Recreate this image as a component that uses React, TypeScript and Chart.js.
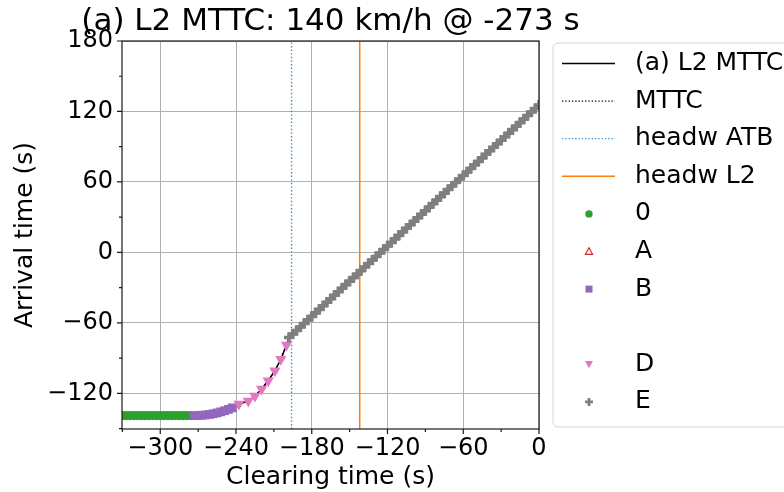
import React, { useEffect, useRef } from 'react';
import { Chart, registerables } from 'chart.js';

Chart.register(...registerables);

const FONT = "'DejaVu Sans', 'Noto Sans', sans-serif";

const TITLE = '(a) L2 MTTC: 140 km/h @ -273 s';
const X_LABEL = 'Clearing time (s)';
const Y_LABEL = 'Arrival time (s)';

const X_MIN = -330.3;
const X_MAX = 0;
const Y_MIN = -150.4;
const Y_MAX = 180;
const X_TICKS = [-300, -240, -180, -120, -60, 0];
const Y_TICKS = [-120, -60, 0, 60, 120, 180];
const X_MINOR = [-330, -270, -210, -150, -90, -30];
const Y_MINOR = [-150, -90, -30, 30, 90, 150];

// MTTC curve
const LINE_X = [-330, -273, -267, -261, -255, -249, -243, -237.7, -230.3, -225.0, -219.7, -214.5, -209.2, -204.5, -200.0, -198, 0];
const LINE_Y = [-139.0, -139.0, -138.7, -138.0, -136.7, -134.8, -132.4, -129.1, -126.6, -122.3, -116.4, -109.3, -100.8, -91.1, -78.9, -72.5, 125.5];

// headway lines
const HEADW_ATB = -196;
const HEADW_L2 = -142;

// state "0"
const S0_X = [-330, -327, -324, -321, -318, -315, -312, -309, -306, -303, -300, -297, -294, -291, -288, -285, -282, -279, -276];
const S0_Y = [-139, -139, -139, -139, -139, -139, -139, -139, -139, -139, -139, -139, -139, -139, -139, -139, -139, -139, -139];

// state "A" (none visible)
const SA_X: number[] = [];
const SA_Y: number[] = [];

// state "B"
const SB_X = [-273, -270, -267, -264, -261, -258, -255, -252, -249, -246, -243];
const SB_Y = [-139.0, -138.9, -138.7, -138.4, -138.0, -137.4, -136.7, -135.8, -134.8, -133.7, -132.4];

// state "D"
const SD_X = [-237.7, -230.3, -225.0, -219.7, -214.5, -209.2, -204.5, -200.0];
const SD_Y = [-129.1, -126.6, -122.3, -116.4, -109.3, -100.8, -91.1, -78.9];

// state "E"
const SE_X = [-198, -195, -192, -189, -186, -183, -180, -177, -174, -171, -168, -165, -162, -159, -156, -153, -150, -147, -144, -141, -138, -135, -132, -129, -126, -123, -120, -117, -114, -111, -108, -105, -102, -99, -96, -93, -90, -87, -84, -81, -78, -75, -72, -69, -66, -63, -60, -57, -54, -51, -48, -45, -42, -39, -36, -33, -30, -27, -24, -21, -18, -15, -12, -9, -6, -3, 0];
const SE_Y = [-72.5, -69.5, -66.5, -63.5, -60.5, -57.5, -54.5, -51.5, -48.5, -45.5, -42.5, -39.5, -36.5, -33.5, -30.5, -27.5, -24.5, -21.5, -18.5, -15.5, -12.5, -9.5, -6.5, -3.5, -0.5, 2.5, 5.5, 8.5, 11.5, 14.5, 17.5, 20.5, 23.5, 26.5, 29.5, 32.5, 35.5, 38.5, 41.5, 44.5, 47.5, 50.5, 53.5, 56.5, 59.5, 62.5, 65.5, 68.5, 71.5, 74.5, 77.5, 80.5, 83.5, 86.5, 89.5, 92.5, 95.5, 98.5, 101.5, 104.5, 107.5, 110.5, 113.5, 116.5, 119.5, 122.5, 125.5];

const LEGEND_LABELS = ['(a) L2 MTTC', 'MTTC', 'headw ATB', 'headw L2', '0', 'A', 'B', '', 'D', 'E'];

const C_GREEN = '#2ca02c';
const C_RED = '#d62728';
const C_PURPLE = '#9467bd';
const C_PINK = '#e377c2';
const C_GRAY = '#7f7f7f';
const C_ORANGE = '#ff7f0e';
const C_BLUE = '#3b8bc2';

const pts = (xs: number[], ys: number[]) => xs.map((x, i) => ({ x, y: ys[i] }));
const fmt = (v: number) => (v < 0 ? '\u2212' + Math.abs(v) : String(v));

const decorPlugin = {
  id: 'decor',
  afterDatasetsDraw(chart: any) {
    const { ctx, chartArea: a, scales } = chart;
    const xs = scales.x;
    const ys = scales.y;
    ctx.save();
    ctx.strokeStyle = '#1a1a1a';
    ctx.lineWidth = 1.2;
    ctx.strokeRect(a.left, a.top, a.right - a.left, a.bottom - a.top);
    ctx.beginPath();
    X_TICKS.forEach((v) => {
      const p = xs.getPixelForValue(v);
      ctx.moveTo(p, a.bottom);
      ctx.lineTo(p, a.bottom + 5);
    });
    X_MINOR.forEach((v) => {
      const p = xs.getPixelForValue(v);
      if (p >= a.left - 1 && p <= a.right + 1) {
        ctx.moveTo(p, a.bottom);
        ctx.lineTo(p, a.bottom + 3);
      }
    });
    Y_TICKS.forEach((v) => {
      const p = ys.getPixelForValue(v);
      ctx.moveTo(a.left - 5, p);
      ctx.lineTo(a.left, p);
    });
    Y_MINOR.forEach((v) => {
      const p = ys.getPixelForValue(v);
      if (p >= a.top - 1 && p <= a.bottom + 1) {
        ctx.moveTo(a.left - 3, p);
        ctx.lineTo(a.left, p);
      }
    });
    ctx.stroke();
    ctx.restore();
  },
  afterDraw(chart: any) {
    const { ctx, chartArea: a } = chart;
    ctx.save();
    // title
    ctx.fillStyle = '#000';
    ctx.font = `31px ${FONT}`;
    ctx.textAlign = 'center';
    ctx.textBaseline = 'middle';
    ctx.fillText(TITLE, (a.left + a.right) / 2, 22);

    // legend box
    const lx = a.right + 14;
    const top = 43;
    const bottom = 427;
    const w = 260;
    const r = 5;
    ctx.beginPath();
    ctx.moveTo(lx + r, top);
    ctx.lineTo(lx + w - r, top);
    ctx.arcTo(lx + w, top, lx + w, top + r, r);
    ctx.lineTo(lx + w, bottom - r);
    ctx.arcTo(lx + w, bottom, lx + w - r, bottom, r);
    ctx.lineTo(lx + r, bottom);
    ctx.arcTo(lx, bottom, lx, bottom - r, r);
    ctx.lineTo(lx, top + r);
    ctx.arcTo(lx, top, lx + r, top, r);
    ctx.closePath();
    ctx.fillStyle = 'rgba(255,255,255,0.85)';
    ctx.fill();
    ctx.strokeStyle = '#d4d4d4';
    ctx.lineWidth = 1;
    ctx.stroke();

    const row0 = 63.5;
    const step = 37.6;
    const sx0 = lx + 9;
    const sx1 = lx + 62;
    const mx = lx + 36;
    const tx = lx + 82;
    LEGEND_LABELS.forEach((label, i) => {
      const y = row0 + step * i;
      ctx.save();
      ctx.setLineDash([]);
      if (i === 0) {
        ctx.strokeStyle = '#000';
        ctx.lineWidth = 1.5;
        ctx.beginPath(); ctx.moveTo(sx0, y); ctx.lineTo(sx1, y); ctx.stroke();
      } else if (i === 1) {
        ctx.strokeStyle = '#000';
        ctx.lineWidth = 1.3;
        ctx.setLineDash([1.3, 2]);
        ctx.beginPath(); ctx.moveTo(sx0, y); ctx.lineTo(sx1, y); ctx.stroke();
      } else if (i === 2) {
        ctx.strokeStyle = C_BLUE;
        ctx.lineWidth = 1.3;
        ctx.setLineDash([1.3, 2]);
        ctx.beginPath(); ctx.moveTo(sx0, y); ctx.lineTo(sx1, y); ctx.stroke();
      } else if (i === 3) {
        ctx.strokeStyle = C_ORANGE;
        ctx.lineWidth = 1.5;
        ctx.beginPath(); ctx.moveTo(sx0, y); ctx.lineTo(sx1, y); ctx.stroke();
      } else if (i === 4) {
        ctx.fillStyle = C_GREEN;
        ctx.beginPath(); ctx.arc(mx, y, 3.7, 0, Math.PI * 2); ctx.fill();
      } else if (i === 5) {
        ctx.strokeStyle = C_RED;
        ctx.lineWidth = 1.2;
        ctx.beginPath();
        ctx.moveTo(mx, y - 3.8); ctx.lineTo(mx + 3.6, y + 2.8); ctx.lineTo(mx - 3.6, y + 2.8); ctx.closePath();
        ctx.stroke();
      } else if (i === 6) {
        ctx.fillStyle = C_PURPLE;
        ctx.fillRect(mx - 3.5, y - 3.5, 7, 7);
      } else if (i === 8) {
        ctx.fillStyle = C_PINK;
        ctx.beginPath();
        ctx.moveTo(mx, y + 4); ctx.lineTo(mx + 4, y - 3.2); ctx.lineTo(mx - 4, y - 3.2); ctx.closePath();
        ctx.fill();
      } else if (i === 9) {
        ctx.strokeStyle = C_GRAY;
        ctx.lineWidth = 2.8;
        ctx.beginPath();
        ctx.moveTo(mx - 4, y); ctx.lineTo(mx + 4, y);
        ctx.moveTo(mx, y - 4); ctx.lineTo(mx, y + 4);
        ctx.stroke();
      }
      ctx.restore();
      if (label) {
        ctx.fillStyle = '#000';
        ctx.font = `25px ${FONT}`;
        ctx.textAlign = 'left';
        ctx.textBaseline = 'middle';
        ctx.fillText(label, tx, y);
      }
    });
    ctx.restore();
  },
};

export default function App() {
  const ref = useRef<HTMLCanvasElement | null>(null);

  useEffect(() => {
    if (!ref.current) return;
    Chart.defaults.font.family = FONT;
    const chart = new Chart(ref.current, {
      type: 'scatter',
      data: {
        datasets: [
          {
            label: 'E',
            data: pts(SE_X, SE_Y),
            pointStyle: 'cross',
            pointRadius: 5,
            pointBorderWidth: 3.6,
            borderColor: C_GRAY,
            backgroundColor: C_GRAY,
            showLine: false,
            order: 1,
          },
          {
            label: 'D',
            data: pts(SD_X, SD_Y),
            pointStyle: 'triangle',
            pointRotation: 180,
            pointRadius: 6.5,
            pointBorderWidth: 0,
            borderColor: C_PINK,
            backgroundColor: C_PINK,
            showLine: false,
            order: 1,
          },
          {
            label: 'B',
            data: pts(SB_X, SB_Y),
            pointStyle: 'rect',
            pointRadius: 6.2,
            pointBorderWidth: 0,
            borderColor: C_PURPLE,
            backgroundColor: C_PURPLE,
            showLine: false,
            order: 1,
          },
          {
            label: 'A',
            data: pts(SA_X, SA_Y),
            pointStyle: 'triangle',
            pointRadius: 4,
            borderColor: C_RED,
            backgroundColor: 'rgba(0,0,0,0)',
            showLine: false,
            order: 1,
          },
          {
            label: '0',
            data: pts(S0_X, S0_Y),
            pointStyle: 'circle',
            pointRadius: 4.6,
            pointBorderWidth: 0,
            borderColor: C_GREEN,
            backgroundColor: C_GREEN,
            showLine: false,
            order: 1,
          },
          {
            label: 'headw L2',
            data: [{ x: HEADW_L2, y: Y_MIN }, { x: HEADW_L2, y: Y_MAX }],
            showLine: true,
            borderColor: C_ORANGE,
            borderWidth: 1.5,
            pointRadius: 0,
            order: 3,
          },
          {
            label: 'headw ATB',
            data: [{ x: HEADW_ATB, y: Y_MIN }, { x: HEADW_ATB, y: Y_MAX }],
            showLine: true,
            borderColor: C_BLUE,
            borderWidth: 1.4,
            borderDash: [1.4, 2.2],
            pointRadius: 0,
            order: 3,
          },
          {
            label: 'MTTC',
            data: pts(LINE_X, LINE_Y),
            showLine: true,
            borderColor: '#000',
            borderWidth: 1.4,
            borderDash: [1.4, 2.2],
            pointRadius: 0,
            tension: 0,
            order: 4,
          },
          {
            label: '(a) L2 MTTC',
            data: pts(LINE_X, LINE_Y),
            showLine: true,
            borderColor: '#000',
            borderWidth: 1.5,
            pointRadius: 0,
            tension: 0,
            order: 5,
          },
        ],
      },
      options: {
        animation: false,
        responsive: true,
        maintainAspectRatio: false,
        events: [],
        layout: { padding: { top: 41, right: 245, bottom: 0, left: 0 } },
        plugins: {
          legend: { display: false },
          tooltip: { enabled: false },
          title: { display: false },
        },
        scales: {
          x: {
            type: 'linear',
            min: X_MIN,
            max: X_MAX,
            afterBuildTicks: (s: any) => {
              s.ticks = X_TICKS.map((v) => ({ value: v }));
            },
            afterFit: (s: any) => {
              s.height = 63;
            },
            ticks: {
              callback: (v: any) => fmt(Number(v)),
              font: { size: 24, family: FONT },
              color: '#000',
              padding: 5,
              maxRotation: 0,
              autoSkip: false,
            },
            grid: { color: '#b0b0b0', lineWidth: 1, drawTicks: false },
            border: { display: false },
            title: {
              display: true,
              text: X_LABEL,
              color: '#000',
              font: { size: 25, family: FONT },
              padding: { top: 0, bottom: 0 },
            },
          },
          y: {
            type: 'linear',
            min: Y_MIN,
            max: Y_MAX,
            afterBuildTicks: (s: any) => {
              s.ticks = Y_TICKS.map((v) => ({ value: v }));
            },
            afterFit: (s: any) => {
              s.width = 122;
            },
            ticks: {
              callback: (v: any) => fmt(Number(v)),
              font: { size: 24, family: FONT },
              color: '#000',
              padding: 9,
              autoSkip: false,
            },
            grid: { color: '#b0b0b0', lineWidth: 1, drawTicks: false },
            border: { display: false },
            title: {
              display: true,
              text: Y_LABEL,
              color: '#000',
              font: { size: 25, family: FONT },
              padding: { top: 10, bottom: 0 },
            },
          },
        },
      },
      plugins: [decorPlugin],
    } as any);
    return () => chart.destroy();
  }, []);

  return (
    <div style={{ position: 'absolute', left: 0, top: 0, width: 784, height: 492, background: '#fff' }}>
      <canvas ref={ref} />
    </div>
  );
}
